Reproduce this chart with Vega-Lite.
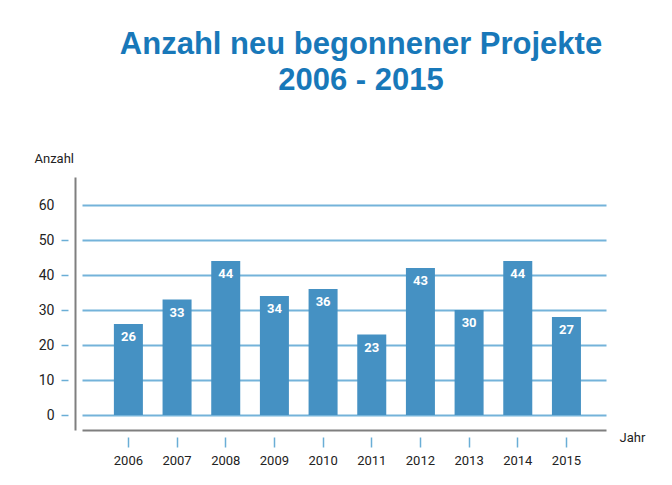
{
  "$schema": "https://vega.github.io/schema/vega-lite/v6.json",
  "autosize": {"type": "none"},
  "padding": {"left": 82, "top": 177, "right": 66, "bottom": 55},
  "width": 524,
  "height": 253,
  "background": "white",
  "config": {"view": {"stroke": null}},
  "title": {
    "text": ["Anzahl neu begonnener Projekte", "2006 - 2015"],
    "font": "Liberation Sans",
    "fontSize": 31,
    "fontWeight": "bold",
    "color": "#1878b9",
    "lineHeight": 36,
    "anchor": "middle",
    "dx": 17,
    "offset": 55
  },
  "data": {
    "values": [
      {"Jahr": "2006", "Anzahl": 26, "Label": "26"},
      {"Jahr": "2007", "Anzahl": 33, "Label": "33"},
      {"Jahr": "2008", "Anzahl": 44, "Label": "44"},
      {"Jahr": "2009", "Anzahl": 34, "Label": "34"},
      {"Jahr": "2010", "Anzahl": 36, "Label": "36"},
      {"Jahr": "2011", "Anzahl": 23, "Label": "23"},
      {"Jahr": "2012", "Anzahl": 42, "Label": "43"},
      {"Jahr": "2013", "Anzahl": 30, "Label": "30"},
      {"Jahr": "2014", "Anzahl": 44, "Label": "44"},
      {"Jahr": "2015", "Anzahl": 28, "Label": "27"}
    ]
  },
  "layer": [
    {
      "mark": {"type": "bar", "color": "#4591c3"},
      "encoding": {
        "x": {
          "field": "Jahr",
          "type": "nominal",
          "scale": {"paddingInner": 0.404, "paddingOuter": 0.585, "align": 0.56},
          "axis": {
            "orient": "bottom",
            "domain": true,
            "domainColor": "#7f7f7f",
            "domainWidth": 2,
            "ticks": false,
            "labels": false,
            "title": null
          }
        },
        "y": {
          "field": "Anzahl",
          "type": "quantitative",
          "scale": {"domain": [-4.2857, 68], "nice": false, "zero": false},
          "axis": {
            "orient": "left",
            "offset": 7,
            "domain": true,
            "domainColor": "#7f7f7f",
            "domainWidth": 2,
            "ticks": false,
            "labels": false,
            "grid": true,
            "gridColor": "#74b3da",
            "gridWidth": 2,
            "values": [0, 10, 20, 30, 40, 50, 60],
            "title": null
          }
        },
        "y2": {"datum": 0}
      }
    },
    {
      "mark": {
        "type": "text",
        "color": "white",
        "font": "Roboto",
        "fontSize": 13,
        "fontWeight": "bold",
        "baseline": "middle",
        "dy": 13
      },
      "encoding": {
        "x": {
          "field": "Jahr",
          "type": "nominal",
          "axis": {
            "orient": "bottom",
            "offset": 7,
            "domain": false,
            "ticks": true,
            "tickSize": 10,
            "tickWidth": 1.5,
            "tickColor": "#6aaed6",
            "labels": true,
            "labelAngle": 0,
            "labelFont": "Roboto",
            "labelFontSize": 13,
            "labelColor": "#222222",
            "labelPadding": 7,
            "title": "Jahr",
            "titleFont": "Roboto",
            "titleFontSize": 13,
            "titleFontWeight": "normal",
            "titleColor": "#222222",
            "titleAnchor": null,
            "titleAlign": "left",
            "titleBaseline": "middle",
            "titleX": 537,
            "titleY": 0
          }
        },
        "y": {
          "field": "Anzahl",
          "type": "quantitative",
          "axis": {
            "orient": "left",
            "offset": 14,
            "domain": false,
            "grid": false,
            "ticks": true,
            "tickSize": 7,
            "tickWidth": 1.5,
            "tickColor": {"condition": {"test": "datum.value == 60", "value": "transparent"}, "value": "#6aaed6"},
            "labels": true,
            "labelFont": "Roboto",
            "labelFontSize": 14,
            "labelColor": "#222222",
            "labelPadding": 7,
            "values": [0, 10, 20, 30, 40, 50, 60],
            "title": "Anzahl",
            "titleFont": "Roboto",
            "titleFontSize": 13,
            "titleFontWeight": "normal",
            "titleColor": "#222222",
            "titleAngle": 0,
            "titleAnchor": null,
            "titleAlign": "left",
            "titleBaseline": "middle",
            "titleX": -34,
            "titleY": -19
          }
        },
        "text": {"field": "Label", "type": "nominal"}
      }
    }
  ],
  "resolve": {"axis": {"x": "independent", "y": "independent"}}
}
